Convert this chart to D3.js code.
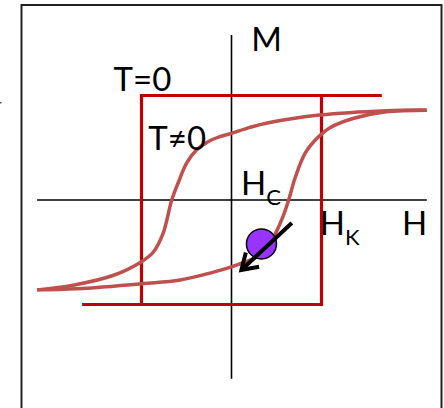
<!DOCTYPE html>
<html>
<head>
<meta charset="utf-8">
<script src="https://cdn.jsdelivr.net/npm/d3@7"></script>
<style>
  html, body { margin: 0; padding: 0; background: #fff; }
  svg { display: block; }
  text { font-family: Lato, "Open Sans", "Liberation Sans", sans-serif; fill: #000; }
</style>
</head>
<body>
<svg id="chart" width="444" height="408"></svg>
<script>
// Hysteresis loops: ideal switching at T=0 (square) and thermally assisted at T≠0.
// H in units of the anisotropy field Hk, M in units of Ms.

// T=0 square loop: descending and ascending branches
const squareDown = [[1.67, 1], [-1, 1], [-1, -1]];
const squareUp   = [[-1.66, -1], [1, -1], [1, 1]];

// T≠0 loop: descending branch (field swept from +H to -H)
const loopDown = [
  [-2.16, -0.86], [-1.76, -0.815], [-1.31, -0.72], [-1.0, -0.59],
  [-0.87, -0.50], [-0.76, -0.32], [-0.664, 0.0], [-0.59, 0.17],
  [-0.50, 0.35], [-0.39, 0.478], [-0.26, 0.558], [-0.128, 0.606],
  [0.0, 0.638], [0.206, 0.695], [0.41, 0.739], [0.98, 0.813],
  [1.72, 0.855], [2.17, 0.86]
];
// T≠0 loop: ascending branch (field swept from -H to +H)
const loopUp = [
  [-2.16, -0.86], [-1.72, -0.85], [-0.98, -0.80], [-0.57, -0.765],
  [-0.2, -0.69], [0.0, -0.64], [0.13, -0.60], [0.26, -0.555],
  [0.39, -0.46], [0.50, -0.30], [0.58, -0.14], [0.635, 0.0],
  [0.71, 0.22], [0.82, 0.45], [0.95, 0.59], [1.09, 0.69],
  [1.35, 0.78], [1.72, 0.845], [2.17, 0.86]
];

// Axis extents
const hAxisRange = [-2.16, 2.17];
const mAxisRange = [-1.71, 1.58];

// State point on the ascending branch and the direction it relaxes
const statePoint = [0.333, -0.42];
const relaxArrow = [[0.67, -0.22], [0.11, -0.67]];

// Labels
const labels = [
  { text: "M", at: [0.22, 1.43] },
  { text: "T=0", at: [-1.31, 1.045] },
  { text: "T\u22600", at: [-0.925, 0.48] },
  { text: "H", sub: "C", at: [0.105, 0.048] },
  { text: "H", sub: "K", at: [0.98, -0.335] },
  { text: "H", at: [1.895, -0.335] }
];

const svg = d3.select("#chart");
const x = d3.scaleLinear().domain([-1, 1]).range([141.5, 321.5]);
const y = d3.scaleLinear().domain([-1, 1]).range([304.5, 95.5]);

// Frame
svg.append("rect")
  .attr("x", 21.5).attr("y", 5).attr("width", 420).attr("height", 430)
  .attr("fill", "none").attr("stroke", "#222").attr("stroke-width", 2);
svg.append("rect").attr("x", 0).attr("y", 102).attr("width", 1.5).attr("height", 1.5).attr("fill", "#555");

// Axes through the origin
svg.append("line")
  .attr("x1", x(hAxisRange[0])).attr("x2", x(hAxisRange[1]))
  .attr("y1", y(0)).attr("y2", y(0))
  .attr("stroke", "#000").attr("stroke-width", 1.6);
svg.append("line")
  .attr("x1", x(0)).attr("x2", x(0))
  .attr("y1", y(mAxisRange[1])).attr("y2", y(mAxisRange[0]))
  .attr("stroke", "#000").attr("stroke-width", 1.6);

// Square loop
const straight = d3.line().x(d => x(d[0])).y(d => y(d[1]));
[squareDown, squareUp].forEach(branch => {
  svg.append("path").attr("d", straight(branch))
    .attr("fill", "none").attr("stroke", "#C00000")
    .attr("stroke-width", 3.2).attr("stroke-linejoin", "miter");
});

// Rounded loop
const smooth = d3.line().x(d => x(d[0])).y(d => y(d[1])).curve(d3.curveCatmullRom.alpha(0.5));
[loopDown, loopUp].forEach(branch => {
  svg.append("path").attr("d", smooth(branch))
    .attr("fill", "none").attr("stroke", "#C0504D")
    .attr("stroke-width", 3.5).attr("stroke-linecap", "butt");
});

// State point
svg.append("circle")
  .attr("cx", x(statePoint[0])).attr("cy", y(statePoint[1])).attr("r", 15)
  .attr("fill", "#9933FF").attr("stroke", "#000").attr("stroke-width", 1.5);

// Relaxation arrow with open head
const [a0, a1] = relaxArrow;
const tx = x(a1[0]), ty = y(a1[1]);
const ang = Math.atan2(ty - y(a0[1]), tx - x(a0[0]));
const headLen = 18, headSpread = Math.PI / 5.5;
svg.append("line")
  .attr("x1", x(a0[0])).attr("y1", y(a0[1])).attr("x2", tx).attr("y2", ty)
  .attr("stroke", "#000").attr("stroke-width", 4);
svg.append("path")
  .attr("d", d3.line()([
    [tx - headLen * Math.cos(ang - headSpread), ty - headLen * Math.sin(ang - headSpread)],
    [tx, ty],
    [tx - headLen * Math.cos(ang + headSpread), ty - headLen * Math.sin(ang + headSpread)]
  ]))
  .attr("fill", "none").attr("stroke", "#000").attr("stroke-width", 4)
  .attr("stroke-linejoin", "miter").attr("stroke-linecap", "butt");

// Labels
labels.forEach(l => {
  const t = svg.append("text")
    .attr("x", x(l.at[0])).attr("y", y(l.at[1]))
    .attr("font-size", 33);
  t.append("tspan").text(l.text);
  if (l.sub) {
    t.append("tspan").attr("dy", 10).attr("font-size", 22).text(l.sub);
  }
});
</script>
</body>
</html>
